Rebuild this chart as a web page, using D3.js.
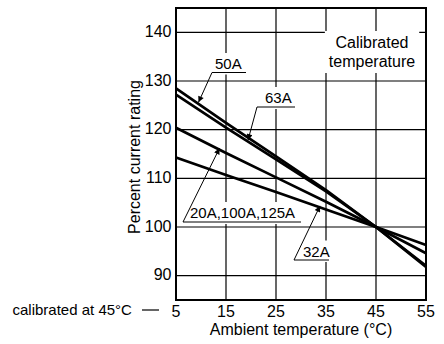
<!DOCTYPE html>
<html>
<head>
<meta charset="utf-8">
<script src="https://cdn.jsdelivr.net/npm/d3@7"></script>
<style>
body { margin: 0; background: #fff; }
svg { display: block; font-family: "Liberation Sans", Arial, Helvetica, sans-serif; }
</style>
</head>
<body>
<svg id="chart" width="444" height="344"></svg>
<script>
// ambient temperature (degC) and percent current rating per breaker size
var temps = [5, 15, 25, 35, 45, 55];
var a50 = [128.5, 121.4, 114.5, 107.6, 100, 91.8];
var a63 = [127.2, 120.4, 113.9, 107.3, 100, 92.0];
var a20 = [120.4, 115.2, 110.2, 105.2, 100, 94.6];
var a32 = [114.3, 110.7, 107.2, 103.6, 100, 96.3];

var xTicks = [5, 15, 25, 35, 45, 55];
var yTicks = [90, 100, 110, 120, 130, 140];

var svg = d3.select('#chart');
var x = d3.scaleLinear().domain([5, 55]).range([176, 426]);
var y = d3.scaleLinear().domain([85, 145]).range([300, 8]);

function valueAt(series, t) {
    var i = d3.bisectRight(temps, t) - 1;
    i = Math.max(0, Math.min(i, temps.length - 2));
    var f = (t - temps[i]) / (temps[i + 1] - temps[i]);
    return series[i] + f * (series[i + 1] - series[i]);
}

var grid = svg.append('g').attr('class', 'grid');
grid.selectAll('.vx').data(xTicks.slice(1, -1)).enter().append('line')
    .attr('x1', function(d) { return x(d); }).attr('x2', function(d) { return x(d); })
    .attr('y1', y(145)).attr('y2', y(85))
    .attr('stroke', '#000').attr('stroke-width', 1.2);
grid.selectAll('.hy').data(yTicks).enter().append('line')
    .attr('x1', x(5)).attr('x2', x(55))
    .attr('y1', function(d) { return y(d); }).attr('y2', function(d) { return y(d); })
    .attr('stroke', '#000').attr('stroke-width', 1.2);

// labels sit on white boxes that break the grid
var bgLayer = svg.append('g');
var lineLayer = svg.append('g');
var noteLayer = svg.append('g');

svg.append('rect')
    .attr('x', x(5)).attr('y', y(145))
    .attr('width', x(55) - x(5)).attr('height', y(85) - y(145))
    .attr('fill', 'none').attr('stroke', '#000').attr('stroke-width', 2);

// calibrated temperature note
var calib = noteLayer.append('text')
    .attr('text-anchor', 'middle').attr('font-size', 16);
calib.append('tspan').attr('x', 372).attr('y', 48).text('Calibrated');
calib.append('tspan').attr('x', 372).attr('y', 67).text('temperature');
var cb = calib.node().getBBox();
bgLayer.append('rect')
    .attr('x', cb.x - 4).attr('y', cb.y - 3)
    .attr('width', cb.width + 8).attr('height', cb.height + 6)
    .attr('fill', '#fff');

var series = [a50, a63, a20, a32];
var line = d3.line()
    .x(function(d, i) { return x(temps[i]); })
    .y(function(d) { return y(d); });
lineLayer.selectAll('.curve').data(series).enter().append('path')
    .attr('d', line)
    .attr('fill', 'none').attr('stroke', '#000')
    .attr('stroke-width', 2.7).attr('stroke-linejoin', 'round');

svg.append('defs').append('marker')
    .attr('id', 'arrow').attr('viewBox', '0 0 10 10')
    .attr('refX', 10).attr('refY', 5)
    .attr('markerWidth', 8).attr('markerHeight', 6)
    .attr('markerUnits', 'userSpaceOnUse')
    .attr('orient', 'auto')
    .append('path').attr('d', 'M0,0L10,5L0,10z').attr('fill', '#000');

var notes = [
    { text: '50A', tx: 215, ty: 69, u1: 212, u2: 246, uy: 72.5, s: a50, t: 9.5 },
    { text: '63A', tx: 265, ty: 103, u1: 257, u2: 295, uy: 107, s: a63, t: 19.4 },
    { text: '20A,100A,125A', tx: 190, ty: 218, u1: 183, u2: 301, uy: 222, s: a20, t: 13.7 },
    { text: '32A', tx: 303, ty: 256.5, u1: 294, u2: 329, uy: 260, s: a32, t: 33.8 }
];

notes.forEach(function(n) {
    var t = noteLayer.append('text')
        .attr('x', n.tx).attr('y', n.ty)
        .attr('font-size', 15).text(n.text);
    var b = t.node().getBBox();
    bgLayer.append('rect')
        .attr('x', Math.min(b.x, n.u1) - 2).attr('y', b.y - 2)
        .attr('width', Math.max(b.x + b.width, n.u2) - Math.min(b.x, n.u1) + 4)
        .attr('height', n.uy - b.y + 4)
        .attr('fill', '#fff');
    noteLayer.append('line')
        .attr('x1', n.u1).attr('x2', n.u2).attr('y1', n.uy).attr('y2', n.uy)
        .attr('stroke', '#000').attr('stroke-width', 1);
    noteLayer.append('line')
        .attr('x1', n.u1).attr('y1', n.uy)
        .attr('x2', x(n.t)).attr('y2', y(valueAt(n.s, n.t)) - 1.5)
        .attr('stroke', '#000').attr('stroke-width', 1)
        .attr('marker-end', 'url(#arrow)');
});

// tick labels
svg.selectAll('.xl').data(xTicks).enter().append('text')
    .attr('x', function(d) { return x(d); }).attr('y', 316.5)
    .attr('text-anchor', 'middle').attr('font-size', 16)
    .text(function(d) { return d; });
svg.selectAll('.yl').data(yTicks).enter().append('text')
    .attr('x', 171.5).attr('y', function(d) { return y(d) + 4.5; })
    .attr('text-anchor', 'end').attr('font-size', 16)
    .text(function(d) { return d; });

svg.append('text')
    .attr('x', 12.5).attr('y', 314.5).attr('font-size', 15)
    .text('calibrated at 45\u00B0C');
svg.append('line')
    .attr('x1', 142).attr('x2', 159).attr('y1', 310).attr('y2', 310)
    .attr('stroke', '#000').attr('stroke-width', 1.2);

svg.append('text')
    .attr('x', 301).attr('y', 335)
    .attr('text-anchor', 'middle').attr('font-size', 16)
    .text('Ambient temperature (\u00B0C)');
svg.append('text')
    .attr('transform', 'translate(140,157) rotate(-90)')
    .attr('text-anchor', 'middle').attr('font-size', 16)
    .text('Percent current rating');
</script>
</body>
</html>
